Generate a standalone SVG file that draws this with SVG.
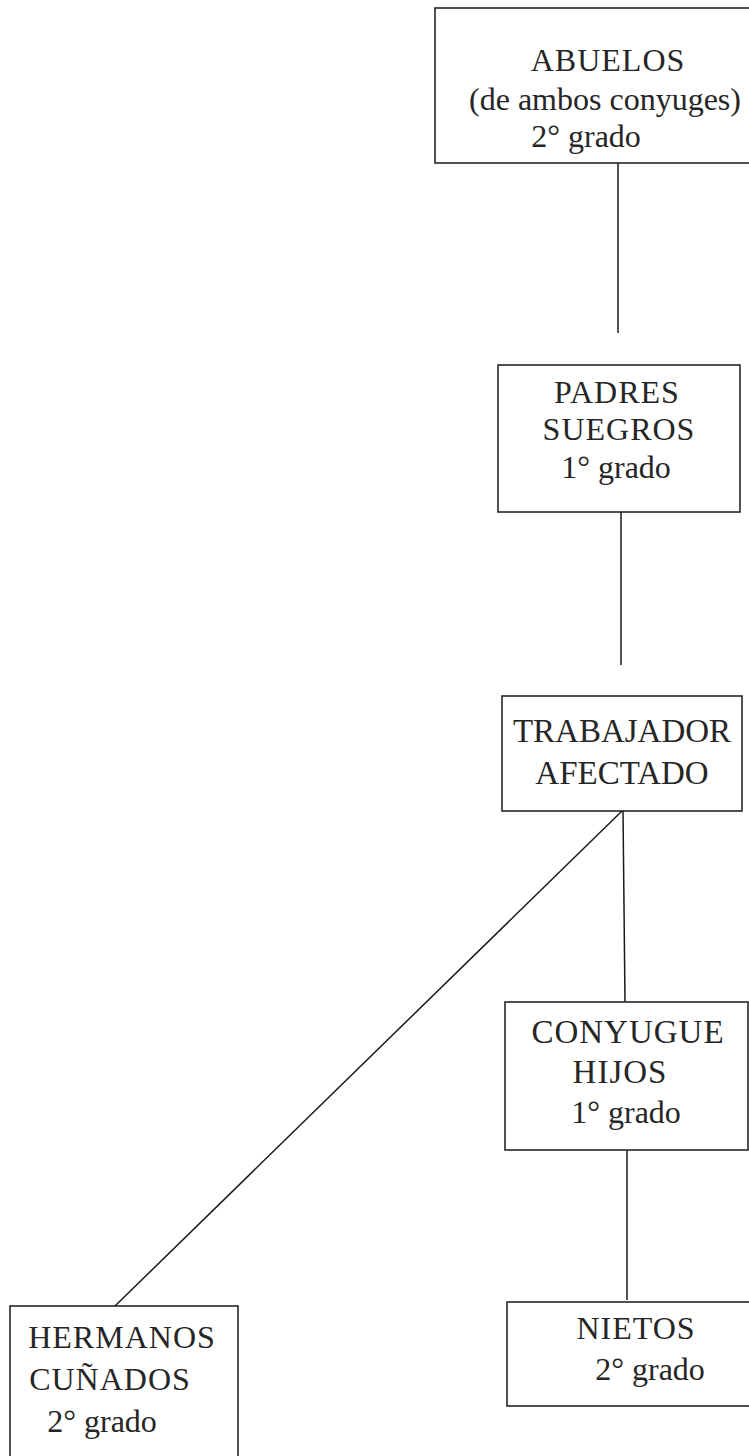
<svg xmlns="http://www.w3.org/2000/svg" width="749" height="1456" viewBox="0 0 749 1456">
<style>
.box{fill:none;stroke:#1a1a1a;stroke-width:1.5}
.lbl{font-family:"Liberation Serif","Times New Roman",serif;font-size:32px;fill:#262626;text-anchor:middle}
.cap{letter-spacing:1px}
.big{font-size:33px}
.con{fill:none;stroke:#1a1a1a;stroke-width:1.5}
</style>
<rect width="749" height="1456" fill="#ffffff"/>
<g id="connectors">
<line class="con" x1="618" y1="163" x2="618" y2="333"/>
<line class="con" x1="621" y1="512" x2="621" y2="665"/>
<line class="con" x1="623" y1="811" x2="625" y2="1002"/>
<line class="con" x1="622" y1="811" x2="115" y2="1306"/>
<line class="con" x1="627" y1="1150" x2="627" y2="1300"/>
</g>
<g id="abuelos">
<path class="box" d="M749,8 H435 V163 H749"/>
<text class="lbl cap" x="608" y="71">ABUELOS</text>
<text class="lbl" x="605" y="110">(de ambos conyuges)</text>
<text class="lbl" x="586" y="147">2° grado</text>
</g>
<g id="padres">
<rect class="box" x="498" y="365" width="242" height="147"/>
<text class="lbl cap" x="617" y="403">PADRES</text>
<text class="lbl cap" x="619" y="440">SUEGROS</text>
<text class="lbl" x="616" y="478">1° grado</text>
</g>
<g id="trabajador">
<rect class="box" x="502" y="696" width="240" height="115"/>
<text class="lbl big" x="622" y="742">TRABAJADOR</text>
<text class="lbl big" x="622" y="784">AFECTADO</text>
</g>
<g id="conyugue">
<rect class="box" x="505" y="1002" width="243" height="148"/>
<text class="lbl big cap" x="628" y="1043">CONYUGUE</text>
<text class="lbl big cap" x="620" y="1083">HIJOS</text>
<text class="lbl" x="626" y="1123">1° grado</text>
</g>
<g id="nietos">
<path class="box" d="M749,1302 H507 V1406 H749"/>
<text class="lbl cap" x="636" y="1339">NIETOS</text>
<text class="lbl" x="650" y="1380">2° grado</text>
</g>
<g id="hermanos">
<path class="box" d="M10,1456 V1306 H238 V1456"/>
<text class="lbl cap" x="122" y="1348">HERMANOS</text>
<text class="lbl cap" x="110" y="1390">CUÑADOS</text>
<text class="lbl" x="102" y="1432">2° grado</text>
</g>
</svg>
